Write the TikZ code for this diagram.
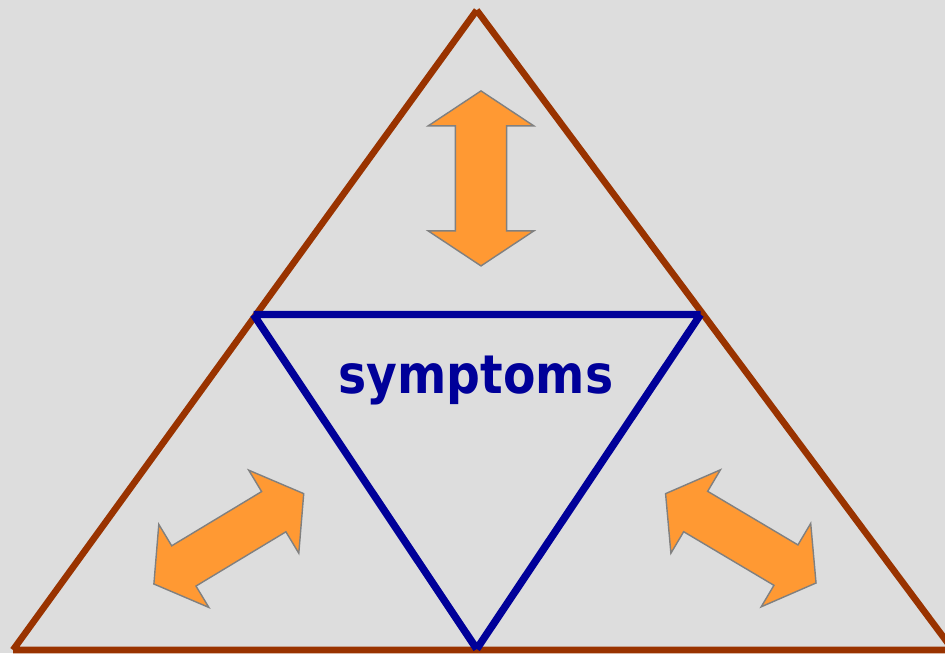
\documentclass[tikz,border=0pt]{standalone}
\usepackage{fontspec}
\newfontfamily\wordfont{DejaVu Sans}
\definecolor{SlideGray}{RGB}{221,221,221}
\definecolor{RustBrown}{RGB}{153,51,0}
\definecolor{DeepBlue}{RGB}{0,0,153}
\definecolor{ArrowOrange}{RGB}{255,153,51}
\definecolor{ArrowEdge}{RGB}{128,128,128}
\tikzset{
  outerside/.style={draw=RustBrown,line width=4.7pt},
  innerside/.style={draw=DeepBlue,line width=5.3pt},
  wordlabel/.style={text=DeepBlue,inner sep=0pt,anchor=base,xscale=0.885,
    font=\wordfont\bfseries\fontsize{38}{46}\selectfont},
  arrowbody/.style={fill=ArrowOrange,draw=ArrowEdge,line width=1pt},
  twoway/.pic={
    \path[arrowbody] (0,-87.5) -- (48.5,-52.5) -- (23.5,-52.5) -- (23.5,52.5)
      -- (48.5,52.5) -- (0,87.5) -- (-48.5,52.5) -- (-23.5,52.5)
      -- (-23.5,-52.5) -- (-48.5,-52.5) -- cycle;
  }
}

\begin{document}
\begin{tikzpicture}[x=0.025cm,y=-0.025cm]
  \useasboundingbox (0,0) rectangle (945,653);
  \clip (0,0) rectangle (945,653);
  \fill[SlideGray] (0,0) rectangle (945,653);
  \coordinate (apex) at (476.7,10.2);
  \coordinate (outerL) at (13,650);
  \coordinate (outerR) at (953,650);
  \coordinate (innerL) at (253.5,314.5);
  \coordinate (innerR) at (700.5,314.5);
  \coordinate (innerB) at (476.7,649);
  \draw[outerside] (apex) -- (outerL) (outerL) -- (outerR) (outerR) -- (apex);
  \draw[innerside] (innerL) -- (innerR) (innerR) -- (innerB) (innerB) -- (innerL);
  \pic[xscale=1.09] (toparrow) at (481,178.4) {twoway};
  \pic[rotate=-58.9] (leftarrow) at (228.8,538.8) {twoway};
  \pic[rotate=59.3] (rightarrow) at (740.8,538.3) {twoway};
  \node[wordlabel] (symptoms) at (476,393) {symptoms};
\end{tikzpicture}
\end{document}
